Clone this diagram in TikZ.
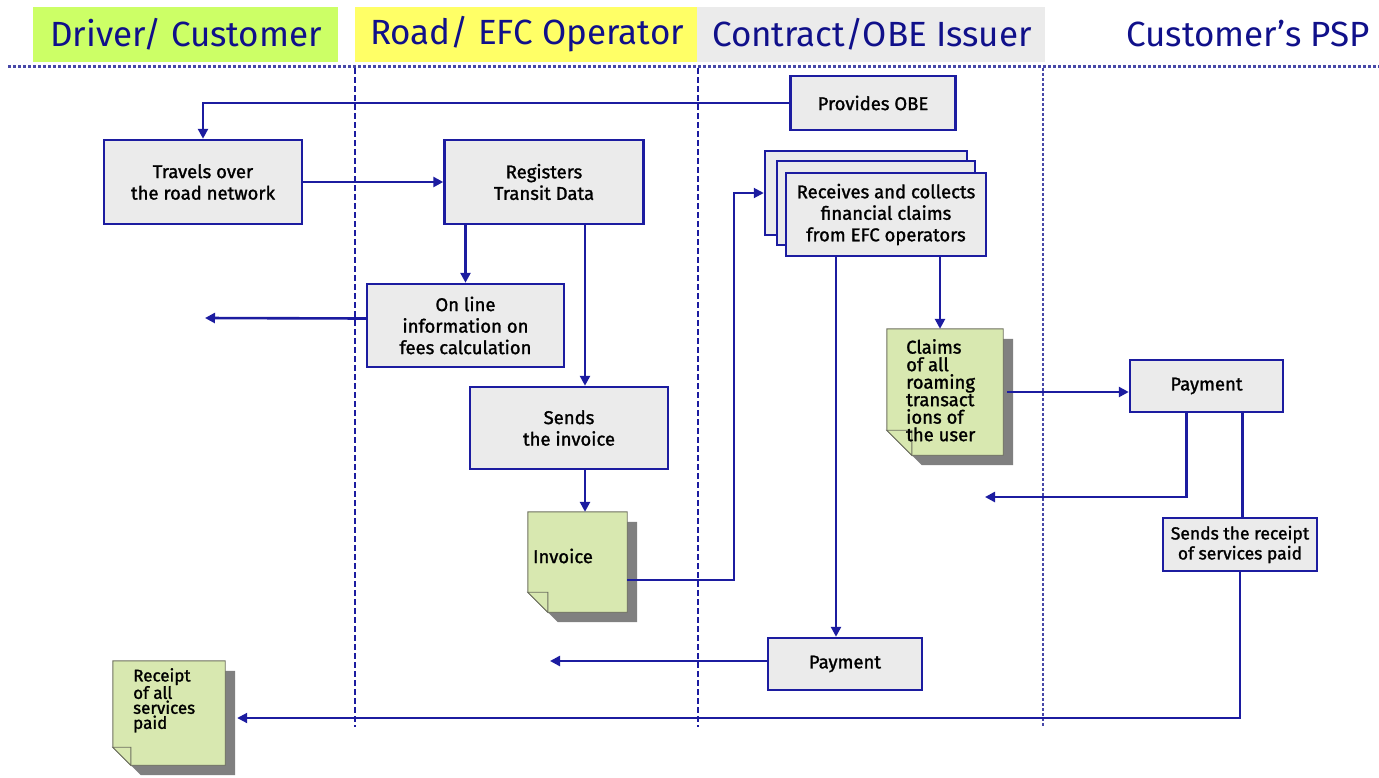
\documentclass[tikz,border=0pt]{standalone}
\usepackage{fontspec}
\setmainfont{Fira Sans}
\newfontfamily\boxfont[FakeBold=1.4]{Fira Sans}
\usetikzlibrary{arrows.meta,backgrounds}
\definecolor{navy}{HTML}{10108A}
\definecolor{lineblue}{HTML}{1C1CA0}
\definecolor{sepblue}{HTML}{4848A8}
\definecolor{boxgray}{HTML}{EBEBEB}
\definecolor{docgreen}{HTML}{D8E8B0}
\definecolor{docline}{HTML}{6E7060}
\definecolor{hdrgreen}{HTML}{CCFF66}
\definecolor{hdryellow}{HTML}{FFFF66}
\definecolor{hdrgray}{HTML}{EBEBEB}
\definecolor{shadowgray}{HTML}{808080}
\newcommand\docshape[2]{%
  \fill[shadowgray] ([shift={(10,10)}]#1.north west) -- ([shift={(10,10)}]#1.north east)
    -- ([shift={(10,10)}]#1.south east) -- ([shift={(10+#2,10)}]#1.south west)
    -- ([shift={(10,10-#2)}]#1.south west) -- cycle;
  \filldraw[fill=docgreen,draw=docline,line width=0.9pt] (#1.north west) -- (#1.north east)
    -- (#1.south east) -- ([shift={(#2,0)}]#1.south west)
    -- ([shift={(0,-#2)}]#1.south west) -- cycle;
  \filldraw[fill=docgreen,draw=docline,line width=0.9pt] ([shift={(0,-#2)}]#1.south west)
    -- ([shift={(#2,-#2)}]#1.south west) -- ([shift={(#2,0)}]#1.south west) -- cycle;}
\begin{document}
\begin{tikzpicture}[x=1pt,y=-1pt,
  hdr/.style={text=navy,font=\fontsize{35}{40}\selectfont,inner sep=0pt},
  proc/.style={draw=lineblue,line width=2.5pt,fill=boxgray,align=center,
    font=\boxfont\fontsize{18.5}{21.5}\selectfont,inner sep=0pt},
  docholder/.style={inner sep=0pt},
  doctext/.style={align=left,font=\boxfont\fontsize{18.5}{17.5}\selectfont,inner sep=0pt},
  conn/.style={draw=lineblue,line width=2.6pt,-{Triangle[length=10pt,width=10pt]}},
  plain/.style={draw=lineblue,line width=2.4pt},
  thinconn/.style={draw=lineblue,line width=2pt,-{Triangle[length=10pt,width=10pt]}},
  sepline/.style={draw=sepblue,line width=3pt,dash pattern=on 3pt off 2pt},
  lanedash/.style={draw=lineblue,line width=1.4pt,dash pattern=on 6pt off 3pt},
  lanedot/.style={draw=sepblue,line width=2.8pt,dash pattern=on 3pt off 2pt}]
\useasboundingbox (0,0) rectangle (1379,777);
% header bands
\fill[hdrgreen] (33,7) rectangle (338,62);
\fill[hdryellow] (355,7) rectangle (697,62);
\fill[hdrgray] (697,7) rectangle (1045,62);
\node[hdr] (h1) at (186,34) {Driver/ Customer};
\node[hdr] (h2) at (527,34) {Road/ EFC Operator};
\node[hdr] (h3) at (872,34) {Contract/OBE Issuer};
\node[hdr,anchor=east] (h4) at (1370,34) {Customer’s PSP};
% separators
\draw[sepline] (8,66) -- (1379,66);
\draw[lanedash] (355,68) -- (355,727);
\draw[lanedash] (698,68) -- (698,727);
\draw[lanedot] (1043,68) -- (1043,727);
% process boxes
\node[proc,minimum width=165,minimum height=54] (obe) at (873,103) {Provides OBE};
\node[proc,minimum width=198,minimum height=84] (travel) at (203,182) {Travels over\\the road network};
\node[proc,minimum width=199,minimum height=84] (reg) at (544,182) {Registers\\Transit Data};
\node[proc,minimum width=202,minimum height=84] (recv3) at (866,193) {};
\node[proc,minimum width=198,minimum height=84] (recv2) at (876,203) {};
\node[proc,minimum width=200,minimum height=83] (recv) at (886,214.5) {Receives and collects\\financial claims\\from EFC operators};
\node[proc,minimum width=197,minimum height=83] (online) at (465.5,325.5) {On line\\information on\\fees calculation};
\node[proc,minimum width=198,minimum height=82] (sendinv) at (569,428) {Sends\\the invoice};
\node[proc,minimum width=153,minimum height=52] (pay1) at (1206.5,386) {Payment};
\node[proc,minimum width=154,minimum height=53,font=\boxfont\fontsize{17.5}{20}\selectfont] (sendrc) at (1240,544.5) {Sends the receipt\\of services paid};
\node[proc,minimum width=154,minimum height=52] (pay2) at (845,664) {Payment};
% documents
\node[docholder,minimum width=99,minimum height=100] (invoice) at (577.5,562) {};
\node[docholder,minimum width=116,minimum height=126] (claims) at (945,392) {};
\node[docholder,minimum width=112,minimum height=104] (rcpt) at (169,713) {};
\begin{scope}[on background layer]
\docshape{invoice}{20}
\docshape{claims}{25}
\docshape{rcpt}{18}
\end{scope}
\node[doctext] (invoicetxt) at (563,556) {Invoice};
\node[doctext,anchor=north west] (claimstxt) at (906,339) {Claims\\of all\\roaming\\transact\\ions of\\the user};
\node[doctext,anchor=north west,font=\boxfont\fontsize{17}{15}\selectfont] (rcpttxt) at (133,668) {Receipt\\of all\\services\\paid};
% free ends
\coordinate (freeA) at (205,318);
\coordinate (freeB) at (550,661);
\coordinate (freeC) at (985,497);
% connectors
\draw[conn] (obe.west) -| (travel.north);
\draw[conn] (travel.east) -- (reg.west);
\draw[conn] (online.north |- reg.south) -- (online.north);
\draw[conn] ([shift={(16,0)}]sendinv.north |- reg.south) -- ([shift={(16,0)}]sendinv.north);
\draw[conn] ([shift={(0,-7)}]online.west) -- (freeA);
\draw[conn] ([shift={(16,0)}]sendinv.south) -- ([shift={(16,0)}]sendinv.south |- invoice.north);
\draw[thinconn] ([shift={(0,18)}]invoice.east) -| ([shift={(-30,0)}]recv3.west) -- (recv3.west);
\draw[conn] ([shift={(54,0)}]recv.south) -- ([shift={(54,0)}]recv.south |- claims.north);
\draw[conn] ([shift={(-50,0)}]recv.south) -- ([shift={(-50,0)}]recv.south |- pay2.north);
\draw[conn] ([shift={(0,-3)}]pay2.west) -- (freeB);
\draw[conn] ([shift={(4,0)}]claims.east) -- (claims.east -| pay1.west);
\draw[conn] ([shift={(-20,0)}]pay1.south) |- (freeC);
\draw[plain] ([shift={(36,0)}]pay1.south) -- ([shift={(36,0)}]pay1.south |- sendrc.north);
\draw[thinconn] (sendrc.south) |- ([shift={(12,5)}]rcpt.east);
\end{tikzpicture}
\end{document}
